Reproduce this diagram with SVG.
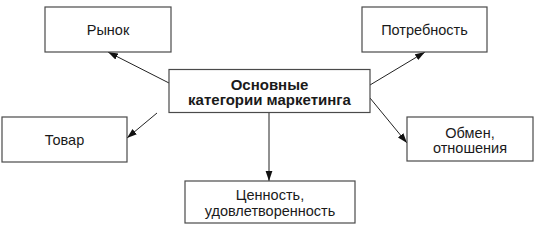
<svg xmlns="http://www.w3.org/2000/svg" width="535" height="230" viewBox="0 0 535 230">
<style>
.box{fill:#fff;stroke:#4a4a4a;stroke-width:1.2}
.t{font-family:"Liberation Sans",Arial,sans-serif;font-size:14.5px;fill:#1a1a1a;text-anchor:middle}
.b{font-weight:bold;font-size:15px}
.c{stroke:#222;stroke-width:1;fill:none;marker-end:url(#ah)}
</style>
<defs>
<marker id="ah" markerWidth="11" markerHeight="8" refX="10" refY="4" orient="auto" markerUnits="userSpaceOnUse">
<path d="M0,0.6 L10,4 L0,7.4 Z" fill="#111"/>
</marker>
</defs>
<g id="connectors">
<line class="c" x1="169" y1="83" x2="108" y2="52"/>
<line class="c" x1="370" y1="85" x2="425" y2="52"/>
<line class="c" x1="157" y1="113" x2="127" y2="138"/>
<line class="c" x1="370" y1="98" x2="407" y2="143"/>
<line class="c" x1="269" y1="113" x2="269" y2="181"/>
</g>
<g id="center">
<rect class="box" x="169" y="69.5" width="201" height="43"/>
<text class="t b" x="269.5" y="89.5">Основные</text>
<text class="t b" x="269.5" y="105">категории маркетинга</text>
</g>
<g id="rynok">
<rect class="box" x="45" y="7" width="126" height="45"/>
<text class="t" x="108" y="35">Рынок</text>
</g>
<g id="potrebnost">
<rect class="box" x="362" y="7" width="125" height="45"/>
<text class="t" x="424.5" y="35">Потребность</text>
</g>
<g id="tovar">
<rect class="box" x="2" y="117" width="125" height="45"/>
<text class="t" x="64.5" y="145">Товар</text>
</g>
<g id="obmen">
<rect class="box" x="407" y="117" width="126" height="44"/>
<text class="t" x="470" y="137.5">Обмен,</text>
<text class="t" x="470" y="153">отношения</text>
</g>
<g id="tsennost">
<rect class="box" x="185" y="181" width="170" height="42"/>
<text class="t" x="270" y="200">Ценность,</text>
<text class="t" x="270" y="215.5">удовлетворенность</text>
</g>
</svg>
